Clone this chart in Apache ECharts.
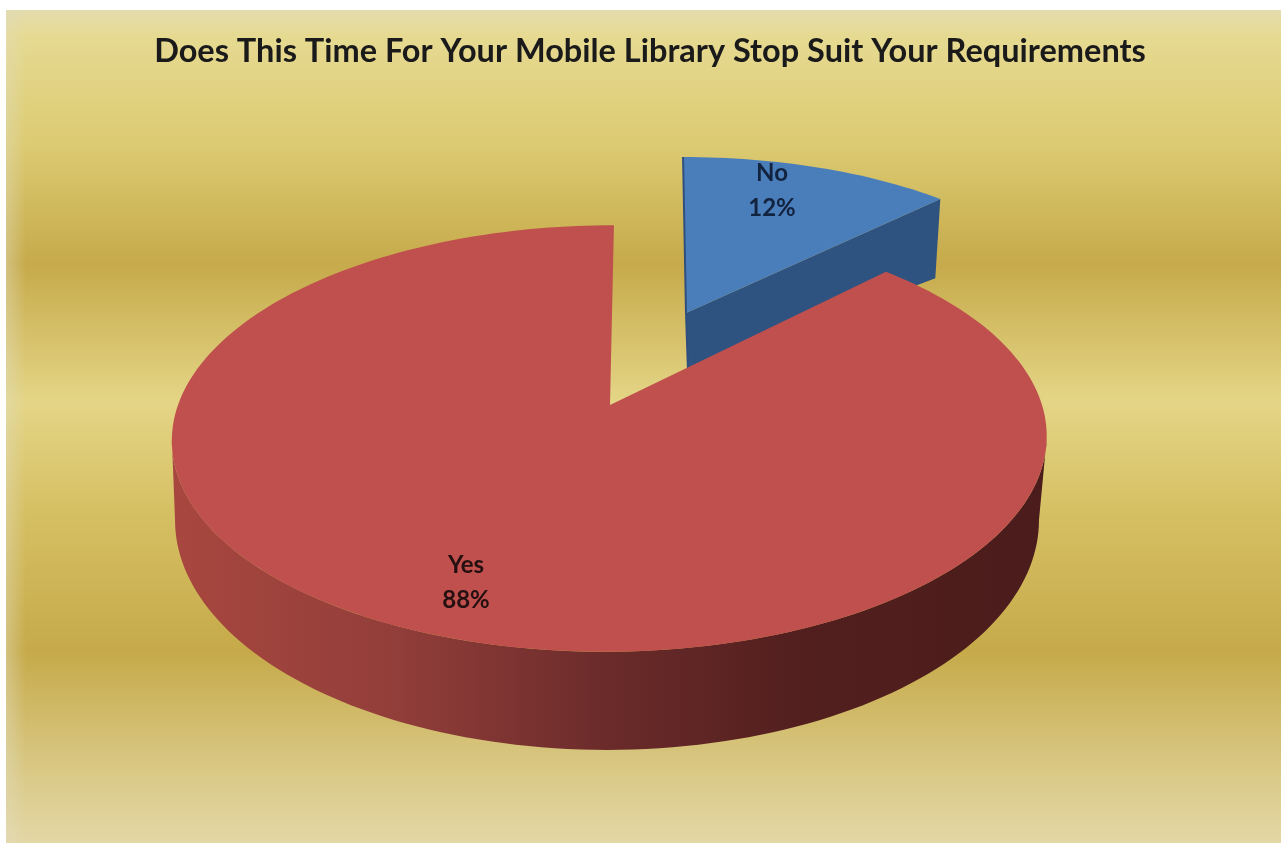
<!DOCTYPE html>
<html><head><meta charset="utf-8">
<style>html,body{margin:0;padding:0;background:#fff}#c{width:1281px;height:843px}</style>
<script src="https://cdn.jsdelivr.net/npm/echarts@6/dist/echarts.min.js"></script>
</head><body><div id="c"></div>
<script>
const titleText = 'Does This Time For Your Mobile Library Stop Suit Your Requirements';
const categories = ['No', 'Yes'];
const shareValues = [12.4, 87.6];

// perspective projection of each exploded slice (top face, bottom face)
const sliceLayout = [
  { top: {x:686,y:313,a:391,b:171.6,k:0.10,lean:0.019}, bottom:{x:688,y:372,a:382,b:143,k:0.12,lean:0},
    label:[772,173,208], color:'#4a7ebb', side:'#2f5380', textColor:'#12233f' },
  { top: {x:610,y:405,a:432,b:208,k:0.157,lean:-0.022}, bottom:{x:607,y:475,a:423.6,b:221,k:0.196,lean:0},
    label:[466,565,600], color:'#c0504d', side:null, textColor:'#241010' }
];
const bgStops = [[0,'#e3dcae'],[0.03,'#e6da92'],[0.16,'#dccb72'],[0.305,'#c6aa4b'],[0.47,'#e4d586'],[0.6,'#d6c064'],[0.77,'#c6aa4a'],[0.9,'#d8c680'],[1,'#e3d7a6']];
const wallStops = [[0,'#a8473f'],[0.25,'#933e3a'],[0.5,'#6a2b2a'],[0.72,'#521f1e'],[1,'#4a1c1b']];

function project(p, t){
  const u = Math.sin(t), v = -Math.cos(t), d = 1 - p.k * v;
  const yy = p.b * v / d;
  return [p.x + p.a * u / d + p.lean * yy, p.y + yy];
}
function arc(p, t0, t1){
  const n = Math.max(8, Math.ceil(Math.abs(t1 - t0) * 40)), pts = [];
  for (let i = 0; i <= n; i++) pts.push(project(p, t0 + (t1 - t0) * i / n));
  return pts;
}
const total = shareValues.reduce((s, v) => s + v, 0);

function renderSlice(params, api){
  const i = params.dataIndex, val = api.value(0), g = sliceLayout[i];
  const before = shareValues.slice(0, i).reduce((s, v) => s + v, 0);
  const t0 = before / total * 2 * Math.PI, t1 = (before + val) / total * 2 * Math.PI;
  const kids = [];
  const topArc = arc(g.top, t0, t1);
  const apexT = [g.top.x, g.top.y], apexB = [g.bottom.x, g.bottom.y];
  if (g.side) {
    const oT = project(g.top, t1), oB = project(g.bottom, t1);
    kids.push({type:'polygon', shape:{points:[apexT, oT, oB, apexB]}, style:{fill:g.side}});
  } else {
    const rT = Math.acos(-g.top.k), rB = Math.acos(-g.bottom.k);
    const upper = arc(g.top, rT, 2 * Math.PI - rT);
    const lower = arc(g.bottom, 2 * Math.PI - rB, rB);
    kids.push({type:'polygon', shape:{points:upper.concat(lower)},
      style:{fill:new echarts.graphic.LinearGradient(0,0,1,0, wallStops.map(s=>({offset:s[0],color:s[1]})))}});
  }
  kids.push({type:'polygon', shape:{points:[apexT].concat(topArc)}, style:{fill:g.color}});
  if (g.side) {
    kids.push({type:'line', shape:{x1:apexT[0],y1:apexT[1],x2:topArc[0][0],y2:topArc[0][1]}, style:{stroke:'#2f4f7f',lineWidth:2}});
    kids.push({type:'line', shape:{x1:apexT[0],y1:apexT[1],x2:apexB[0],y2:apexB[1]}, style:{stroke:'#2f4f7f',lineWidth:2}});
  }
  const font = 'bold 24px Lato, sans-serif';
  kids.push({type:'text', style:{text:categories[i], x:g.label[0], y:g.label[1], align:'center', verticalAlign:'middle', font, fill:g.textColor}});
  kids.push({type:'text', style:{text:Math.round(val / total * 100) + '%', x:g.label[0], y:g.label[2], align:'center', verticalAlign:'middle', font, fill:g.textColor}});
  return {type:'group', children:kids};
}

const chart = echarts.init(document.getElementById('c'), null, {renderer:'canvas'});
chart.setOption({
  animation:false,
  backgroundColor:'#fff',
  title:{text:titleText, left:645, top:30, textAlign:'center',
    textStyle:{fontFamily:'Lato, sans-serif', fontWeight:'bold', fontSize:32.5, color:'#1a1a1a'}},
  graphic:[
    {type:'rect', z:-10, silent:true, shape:{x:6,y:10,width:1275,height:833},
     style:{fill:new echarts.graphic.LinearGradient(0,0,0,1, bgStops.map(s=>({offset:s[0],color:s[1]})))}},
    {type:'rect', z:-9, silent:true, shape:{x:6,y:10,width:20,height:833},
     style:{fill:new echarts.graphic.LinearGradient(0,0,1,0,[{offset:0,color:'rgba(225,220,190,0.45)'},{offset:1,color:'rgba(225,220,190,0)'}])}}
  ],
  series:[{type:'custom', coordinateSystem:'none', silent:true, clip:false,
    renderItem:renderSlice,
    data:shareValues.map((v,i)=>({name:categories[i], value:[v]}))}]
});
</script></body></html>
